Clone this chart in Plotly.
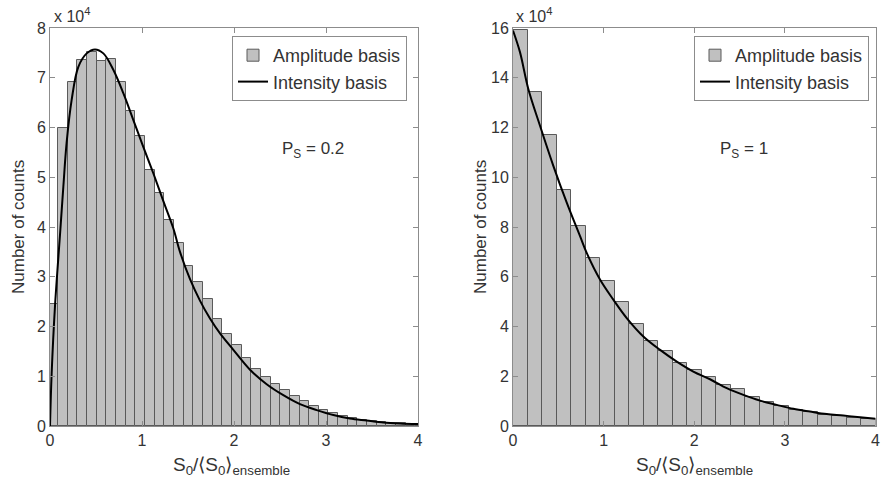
import plotly.graph_objects as go

# ---------------- data ----------------
# Left panel (P_S = 0.2): histogram bins (width ~0.105) and counts in units of 1e4
left_bin_width = 0.105
left_bin_centers = [0.0345 + 0.105 * k for k in range(39)]
left_counts = [2.45, 5.98, 6.92, 7.36, 7.52, 7.33, 7.37, 6.92, 6.33, 5.82,
               5.14, 4.69, 4.15, 3.68, 3.22, 2.90, 2.55, 2.15, 1.85, 1.62,
               1.37, 1.15, 0.99, 0.84, 0.72, 0.61, 0.50, 0.40, 0.32, 0.26,
               0.21, 0.17, 0.13, 0.11, 0.09, 0.07, 0.06, 0.05, 0.04]
left_curve_x = [0.0, 0.018, 0.054, 0.11, 0.145, 0.18, 0.235, 0.308, 0.399, 0.489,
                0.58, 0.688, 0.797, 0.906, 1.014, 1.123, 1.232, 1.341, 1.413, 1.522,
                1.63, 1.739, 1.848, 1.993, 2.174, 2.355, 2.536, 2.717, 2.899, 3.08,
                3.26, 3.442, 3.623, 3.804, 4.0]
left_curve_y = [0.0, 1.06, 2.4, 3.88, 4.81, 5.68, 6.55, 7.22, 7.49, 7.57,
                7.49, 7.16, 6.69, 6.15, 5.61, 5.08, 4.52, 3.97, 3.5, 2.95,
                2.52, 2.16, 1.86, 1.53, 1.13, 0.84, 0.62, 0.44, 0.32, 0.22,
                0.15, 0.11, 0.07, 0.05, 0.04]

# Right panel (P_S = 1): histogram bins (width 0.16) and counts in units of 1e4
right_bin_width = 0.16
right_bin_centers = [0.08 + 0.16 * k for k in range(25)]
right_counts = [15.9, 13.41, 11.69, 9.49, 8.06, 6.76, 5.82, 4.97, 4.11, 3.42,
                3.0, 2.52, 2.26, 1.95, 1.65, 1.47, 1.18, 0.96, 0.80, 0.66,
                0.55, 0.46, 0.39, 0.32, 0.28]
right_curve_x = [0.0, 0.077, 0.169, 0.298, 0.445, 0.593, 0.74, 0.813, 0.96, 1.107,
                 1.255, 1.438, 1.623, 1.807, 1.99, 2.174, 2.359, 2.542, 2.726, 2.91,
                 3.094, 3.278, 3.462, 3.646, 3.83, 4.0]
right_curve_y = [15.9, 15.03, 13.55, 12.07, 10.46, 8.98, 7.63, 6.96, 5.89, 5.08,
                 4.34, 3.6, 3.06, 2.59, 2.19, 1.88, 1.52, 1.25, 1.02, 0.85,
                 0.69, 0.58, 0.48, 0.42, 0.35, 0.29]

SCALE = 1e4
x_ticks = [0, 1, 2, 3, 4]
left_y_ticks = [0, 1, 2, 3, 4, 5, 6, 7, 8]
right_y_ticks = [0, 2, 4, 6, 8, 10, 12, 14, 16]

series_names = ["Amplitude basis", "Intensity basis"]
panel_labels = ["P<sub>S</sub> = 0.2", "P<sub>S</sub> = 1"]
x_title = "S<sub>0</sub>/⟨S<sub>0</sub>⟩<sub>ensemble</sub>"
y_title = "Number of counts"

# ---------------- style ----------------
FONT = "Liberation Sans, Arial, sans-serif"
BAR_FILL = "#c0c0c0"
BAR_EDGE = "#5a5a5a"
AX_COLOR = "#8c8c8c"
TXT = "#333333"
W, H = 882, 484

fig = go.Figure()

fig.add_trace(go.Bar(x=left_bin_centers, y=[v * SCALE for v in left_counts],
                     width=left_bin_width, marker=dict(color=BAR_FILL, line=dict(color=BAR_EDGE, width=1)),
                     name=series_names[0], xaxis="x", yaxis="y", legend="legend"))
fig.add_trace(go.Scatter(x=left_curve_x, y=[v * SCALE for v in left_curve_y], mode="lines",
                         line=dict(color="black", width=2, shape="spline"),
                         name=series_names[1], xaxis="x", yaxis="y", legend="legend"))
fig.add_trace(go.Bar(x=right_bin_centers, y=[v * SCALE for v in right_counts],
                     width=right_bin_width, marker=dict(color=BAR_FILL, line=dict(color=BAR_EDGE, width=1)),
                     name=series_names[0], xaxis="x2", yaxis="y2", legend="legend2"))
fig.add_trace(go.Scatter(x=right_curve_x, y=[v * SCALE for v in right_curve_y], mode="lines",
                         line=dict(color="black", width=2, shape="spline"),
                         name=series_names[1], xaxis="x2", yaxis="y2", legend="legend2"))

ydom = [1 - 426 / H, 1 - 28 / H]
lx = [50 / W, 418 / W]
rx = [513 / W, 875.5 / W]

axis_common = dict(showline=True, linecolor=AX_COLOR, linewidth=1, mirror="allticks",
                   ticks="inside", ticklen=5, tickcolor=AX_COLOR, showgrid=False, zeroline=False,
                   tickfont=dict(family=FONT, size=16, color=TXT), automargin=False)

legend_common = dict(yanchor="top", xanchor="left", y=1 - 36 / H,
                     bordercolor=AX_COLOR, borderwidth=1, bgcolor="white",
                     font=dict(family=FONT, size=18, color=TXT), tracegroupgap=0,
                     itemwidth=30)

fig.update_layout(
    width=W, height=H, margin=dict(l=0, r=0, t=0, b=0),
    paper_bgcolor="white", plot_bgcolor="white", barmode="overlay", bargap=0,
    showlegend=True,
    xaxis=dict(domain=lx, range=[0, 4], tickvals=x_ticks, anchor="y", **axis_common),
    yaxis=dict(domain=ydom, range=[0, 8 * SCALE], tickvals=[t * SCALE for t in left_y_ticks],
               ticktext=[str(t) for t in left_y_ticks], anchor="x", **axis_common),
    xaxis2=dict(domain=rx, range=[0, 4], tickvals=x_ticks, anchor="y2", **axis_common),
    yaxis2=dict(domain=ydom, range=[0, 16 * SCALE], tickvals=[t * SCALE for t in right_y_ticks],
                ticktext=[str(t) for t in right_y_ticks], anchor="x2", **axis_common),
    legend=dict(x=232 / W, **legend_common),
    legend2=dict(x=694 / W, **legend_common),
)

ann_font = dict(family=FONT, size=17, color=TXT)
annotations = [
    dict(x=313 / W, y=1 - 150 / H, text=panel_labels[0], font=ann_font),
    dict(x=744 / W, y=1 - 150 / H, text=panel_labels[1], font=ann_font),
    dict(x=232 / W, y=1 - 466 / H, text=x_title, font=dict(family=FONT, size=19, color=TXT)),
    dict(x=694 / W, y=1 - 466 / H, text=x_title, font=dict(family=FONT, size=19, color=TXT)),
]
for a in annotations:
    fig.add_annotation(xref="paper", yref="paper", showarrow=False,
                       xanchor="center", yanchor="middle", **a)
for xc in [18, 480]:
    fig.add_annotation(xref="paper", yref="paper", x=xc / W, y=1 - 227 / H, text=y_title,
                       textangle=-90, showarrow=False, font=ann_font,
                       xanchor="center", yanchor="middle")
for xl in [52, 514]:
    fig.add_annotation(xref="paper", yref="paper", x=xl / W, y=1 - 15 / H,
                       text="x 10<sup>4</sup>", showarrow=False,
                       font=dict(family=FONT, size=16, color=TXT),
                       xanchor="left", yanchor="middle")

fig.write_html("out.html")
